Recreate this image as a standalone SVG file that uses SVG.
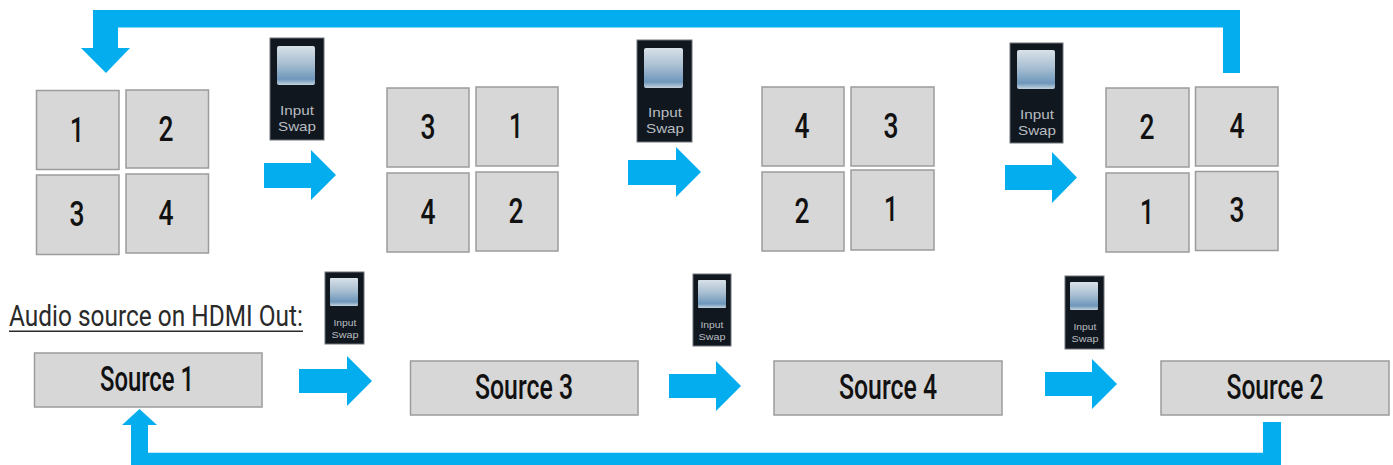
<svg xmlns="http://www.w3.org/2000/svg" width="1393" height="465" viewBox="0 0 1393 465">
<style>
.box{fill:#d7d7d7;stroke:#9c9c9c;stroke-width:1.5}
.t{font-family:"Roboto","Liberation Sans",sans-serif;font-weight:500;fill:#111;text-anchor:middle}
.d{font-size:35px}
.s{font-size:35px}
.lab{font-family:"Roboto","Liberation Sans",sans-serif;font-size:30px;fill:#2a2a2a}
.arrow{fill:#04aeee}
.sw{fill:#10171f;stroke:#6f7479;stroke-width:1}
.sl{font-family:"Liberation Sans",sans-serif;fill:#b9bdc0;text-anchor:middle}
.big{font-size:13.5px}
.small{font-size:9px}
.btn{fill:url(#g)}
</style>
<defs>
<linearGradient id="g" x1="0" y1="0" x2="0" y2="1">
<stop offset="0" stop-color="#d8e1e8"/><stop offset="0.45" stop-color="#a9bfd2"/><stop offset="0.85" stop-color="#6e97bb"/><stop offset="1" stop-color="#c5d3de"/>
</linearGradient>
</defs>
<rect width="1393" height="465" fill="#fff"/>
<g id="connectors">
<path class="arrow" d="M1240 10H93V48H81L106 73L130 48H118V27.500H1223V73H1240Z"/>
<path class="arrow" d="M1263 422H1281V465H131V425H122L139.500 409L157 425H148V452.700H1263Z"/>
<path class="arrow" d="M264 163H311V150L336 175L311 200V188H264Z"/>
<path class="arrow" d="M628 160H676V147L701 172L676 197V185H628Z"/>
<path class="arrow" d="M1005 165H1052V152L1077 177.500L1052 203V190H1005Z"/>
<path class="arrow" d="M299 369H347V356L372 381L347 406V393H299Z"/>
<path class="arrow" d="M669 374H716V361L741 386L716 411V398H669Z"/>
<path class="arrow" d="M1045 372H1092V359L1117 384L1092 409V396H1045Z"/>
</g>
<g id="grid1">
<rect class="box" x="36.500" y="90.500" width="82.500" height="79"/><text class="t d" x="77" y="142" textLength="14" lengthAdjust="spacingAndGlyphs">1</text>
<rect class="box" x="126" y="90" width="82.500" height="78"/><text class="t d" x="166" y="141" textLength="15" lengthAdjust="spacingAndGlyphs">2</text>
<rect class="box" x="36.500" y="175" width="82.500" height="79.500"/><text class="t d" x="77" y="226" textLength="15" lengthAdjust="spacingAndGlyphs">3</text>
<rect class="box" x="126" y="174" width="82.500" height="79"/><text class="t d" x="166" y="225" textLength="15" lengthAdjust="spacingAndGlyphs">4</text>
</g>
<g id="grid2">
<rect class="box" x="387" y="88" width="82" height="79"/><text class="t d" x="428" y="139" textLength="15" lengthAdjust="spacingAndGlyphs">3</text>
<rect class="box" x="476" y="87" width="82" height="79"/><text class="t d" x="516" y="138" textLength="14" lengthAdjust="spacingAndGlyphs">1</text>
<rect class="box" x="387" y="173" width="82" height="79"/><text class="t d" x="428" y="224" textLength="15" lengthAdjust="spacingAndGlyphs">4</text>
<rect class="box" x="476" y="172" width="82" height="79"/><text class="t d" x="516" y="223" textLength="15" lengthAdjust="spacingAndGlyphs">2</text>
</g>
<g id="grid3">
<rect class="box" x="762" y="87" width="82" height="79"/><text class="t d" x="802" y="138" textLength="15" lengthAdjust="spacingAndGlyphs">4</text>
<rect class="box" x="851" y="87" width="83" height="79"/><text class="t d" x="891" y="138" textLength="15" lengthAdjust="spacingAndGlyphs">3</text>
<rect class="box" x="762" y="172" width="82" height="79"/><text class="t d" x="802" y="223" textLength="15" lengthAdjust="spacingAndGlyphs">2</text>
<rect class="box" x="851" y="170" width="83" height="80"/><text class="t d" x="891" y="221" textLength="14" lengthAdjust="spacingAndGlyphs">1</text>
</g>
<g id="grid4">
<rect class="box" x="1106" y="88" width="83" height="79"/><text class="t d" x="1147" y="139" textLength="15" lengthAdjust="spacingAndGlyphs">2</text>
<rect class="box" x="1195.500" y="87" width="82.500" height="79"/><text class="t d" x="1237" y="138" textLength="15" lengthAdjust="spacingAndGlyphs">4</text>
<rect class="box" x="1106" y="173" width="83" height="79"/><text class="t d" x="1147" y="224" textLength="14" lengthAdjust="spacingAndGlyphs">1</text>
<rect class="box" x="1195.500" y="171.500" width="82.500" height="79"/><text class="t d" x="1237" y="222" textLength="15" lengthAdjust="spacingAndGlyphs">3</text>
</g>
<g id="swap1"><rect class="sw" x="270" y="38" width="54" height="102"/><rect class="btn" x="277" y="46" width="38" height="39" rx="2"/><text class="sl big" x="297" y="115" textLength="34" lengthAdjust="spacingAndGlyphs">Input</text><text class="sl big" x="297" y="131" textLength="38" lengthAdjust="spacingAndGlyphs">Swap</text></g>
<g id="swap2"><rect class="sw" x="637" y="40" width="55" height="102"/><rect class="btn" x="644" y="48" width="39" height="40" rx="2"/><text class="sl big" x="665" y="117" textLength="34" lengthAdjust="spacingAndGlyphs">Input</text><text class="sl big" x="665" y="133" textLength="38" lengthAdjust="spacingAndGlyphs">Swap</text></g>
<g id="swap3"><rect class="sw" x="1010" y="43" width="53" height="100"/><rect class="btn" x="1017" y="50" width="38" height="39" rx="2"/><text class="sl big" x="1037" y="119" textLength="34" lengthAdjust="spacingAndGlyphs">Input</text><text class="sl big" x="1037" y="135" textLength="38" lengthAdjust="spacingAndGlyphs">Swap</text></g>
<g id="swap4"><rect class="sw" x="325" y="272" width="39" height="72"/><rect class="btn" x="330" y="278" width="28" height="28" rx="1"/><text class="sl small" x="345" y="326" textLength="23" lengthAdjust="spacingAndGlyphs">Input</text><text class="sl small" x="345" y="338" textLength="27" lengthAdjust="spacingAndGlyphs">Swap</text></g>
<g id="swap5"><rect class="sw" x="693" y="274" width="38" height="72"/><rect class="btn" x="698" y="280" width="28" height="28" rx="1"/><text class="sl small" x="712" y="328" textLength="23" lengthAdjust="spacingAndGlyphs">Input</text><text class="sl small" x="712" y="340" textLength="27" lengthAdjust="spacingAndGlyphs">Swap</text></g>
<g id="swap6"><rect class="sw" x="1065" y="276" width="39" height="73"/><rect class="btn" x="1070" y="282" width="28" height="28" rx="1"/><text class="sl small" x="1085" y="330" textLength="23" lengthAdjust="spacingAndGlyphs">Input</text><text class="sl small" x="1085" y="342" textLength="27" lengthAdjust="spacingAndGlyphs">Swap</text></g>
<g id="audio-label"><text class="lab" transform="translate(9 326) scale(0.84 1)" textLength="350" lengthAdjust="spacingAndGlyphs">Audio source on HDMI Out:</text><rect x="9" y="330.500" width="294" height="1.500" fill="#2a2a2a"/></g>
<g id="source1"><rect class="box" x="34.500" y="353" width="227.500" height="54"/><text class="t s" x="147" y="391" textLength="94" lengthAdjust="spacingAndGlyphs">Source 1</text></g>
<g id="source3"><rect class="box" x="410.500" y="361" width="227.500" height="54"/><text class="t s" x="524" y="399" textLength="98" lengthAdjust="spacingAndGlyphs">Source 3</text></g>
<g id="source4"><rect class="box" x="774" y="361" width="228" height="54"/><text class="t s" x="888" y="399" textLength="98" lengthAdjust="spacingAndGlyphs">Source 4</text></g>
<g id="source2"><rect class="box" x="1161" y="361" width="228" height="54"/><text class="t s" x="1275" y="399" textLength="97" lengthAdjust="spacingAndGlyphs">Source 2</text></g>
</svg>
